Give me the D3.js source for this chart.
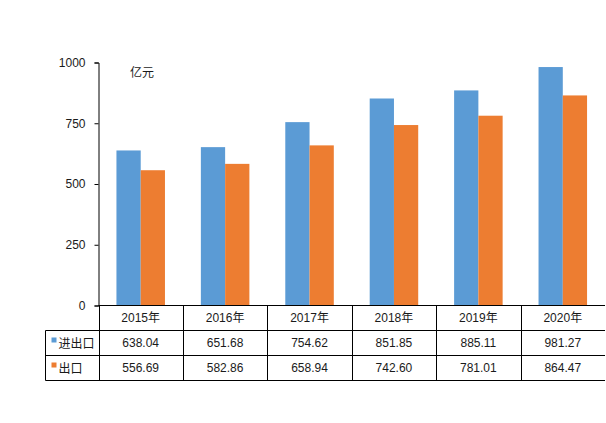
<!DOCTYPE html>
<html>
<head>
<meta charset="utf-8">
<script src="https://cdn.jsdelivr.net/npm/d3@7"></script>
<style>
  body { margin: 0; background: #fff; }
  svg { display: block; font-family: "Liberation Sans", Arial, "Noto Sans CJK SC", sans-serif; }
</style>
</head>
<body>
<svg></svg>
<script>
const years = ['2015年', '2016年', '2017年', '2018年', '2019年', '2020年']
const seriesNames = ['进出口', '出口']
const totalTrade = [638.04, 651.68, 754.62, 851.85, 885.11, 981.27]
const exportVals = [556.69, 582.86, 658.94, 742.60, 781.01, 864.47]
const yTicks = [0, 250, 500, 750, 1000]
const unitLabel = '亿元'

const colors = ['#5b9bd5', '#ed7d31']
const seriesValues = [totalTrade, exportVals]

const
    svgWidth = 606,
    svgHeight = 423,
    plotLeft = 98.5,
    plotRight = 605,
    plotTop = 62.5,
    plotBase = 305.5,
    tableLeft = 45.5,
    rowH = 25

let svg = d3.select('svg')
    .attr('width', svgWidth)
    .attr('height', svgHeight)

let x = d3.scaleBand()
    .domain(years)
    .range([plotLeft, plotRight])

let xs = d3.scaleBand()
    .domain(seriesNames)
    .range([0, x.bandwidth()])
    .paddingOuter(0.74)

let y = d3.scaleLinear()
    .domain([0, 1000])
    .range([plotBase, plotTop])

// bars
seriesNames.forEach((name, s) => {
    svg.append('g').selectAll('rect')
        .data(seriesValues[s])
        .enter()
        .append('rect')
            .attr('x', (d, i) => x(years[i]) + xs(name))
            .attr('width', xs.bandwidth())
            .attr('y', d => y(d))
            .attr('height', d => plotBase - y(d))
            .attr('fill', colors[s])
})

// y axis
let yAxis = svg.append('g')
    .attr('transform', `translate(${plotLeft},0)`)
    .call(d3.axisLeft(y).tickValues(yTicks).tickSize(4).tickPadding(9).tickFormat(d3.format('d')))
yAxis.select('.domain').attr('stroke', '#000')
yAxis.selectAll('.tick line').attr('stroke', '#000')
yAxis.selectAll('text')
    .attr('font-size', 12)
    .attr('fill', '#1a1a1a')
yAxis.attr('font-family', null).attr('font-size', null)

svg.append('text')
    .attr('x', 130)
    .attr('y', 77)
    .attr('font-size', 12)
    .attr('fill', '#1a1a1a')
    .text(unitLabel)

// data table
let grid = svg.append('g').attr('stroke', '#000').attr('stroke-width', 1)
grid.append('line').attr('x1', plotLeft).attr('x2', plotRight).attr('y1', plotBase).attr('y2', plotBase)
for (let r = 1; r <= 3; r++) {
    grid.append('line')
        .attr('x1', tableLeft).attr('x2', plotRight)
        .attr('y1', plotBase + r * rowH).attr('y2', plotBase + r * rowH)
}
grid.append('line')
    .attr('x1', tableLeft).attr('x2', tableLeft)
    .attr('y1', plotBase + rowH).attr('y2', plotBase + 3 * rowH)
grid.selectAll('.vline')
    .data(years)
    .enter()
    .append('line')
        .attr('x1', d => Math.round(x(d)) + 0.5)
        .attr('x2', d => Math.round(x(d)) + 0.5)
        .attr('y1', plotBase)
        .attr('y2', plotBase + 3 * rowH)

svg.append('g').selectAll('text')
    .data(years)
    .enter()
    .append('text')
        .attr('x', d => x(d) + x.bandwidth() / 2)
        .attr('y', plotBase + rowH / 2 + 4)
        .attr('text-anchor', 'middle')
        .attr('font-size', 12)
        .attr('fill', '#1a1a1a')
        .text(d => d)

seriesNames.forEach((name, s) => {
    let rowY = plotBase + rowH * (s + 1)
    svg.append('rect')
        .attr('x', 51.5)
        .attr('y', rowY + 7)
        .attr('width', 5)
        .attr('height', 5)
        .attr('fill', colors[s])
    svg.append('text')
        .attr('x', 58.5)
        .attr('y', rowY + rowH / 2 + 5)
        .attr('font-size', 12)
        .attr('fill', '#1a1a1a')
        .text(name)
    svg.append('g').selectAll('text')
        .data(seriesValues[s])
        .enter()
        .append('text')
            .attr('x', (d, i) => x(years[i]) + x.bandwidth() / 2)
            .attr('y', rowY + rowH / 2 + 4)
            .attr('text-anchor', 'middle')
            .attr('font-size', 12)
            .attr('fill', '#1a1a1a')
            .text(d => d.toFixed(2))
})
</script>
</body>
</html>
